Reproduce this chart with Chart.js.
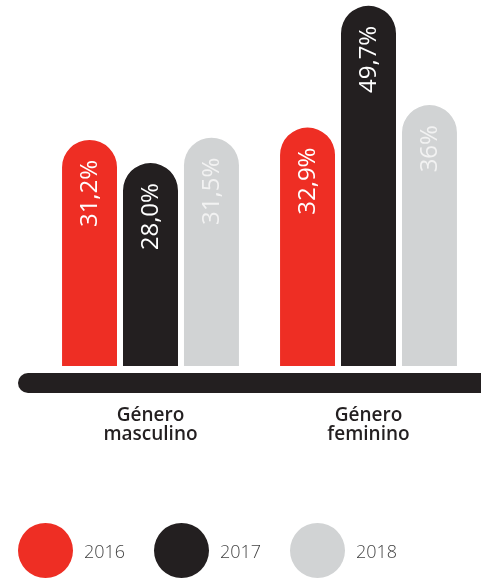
<!DOCTYPE html>
<html>
<head>
<meta charset="utf-8">
<script src="https://cdn.jsdelivr.net/npm/chart.js@4/dist/chart.umd.min.js"></script>
<style>
  html, body { margin: 0; padding: 0; background: #ffffff; }
  #wrap { position: relative; width: 481px; height: 579px; overflow: hidden; }
  #legend { position: absolute; left: 18px; top: 523px; display: flex; font-family: "Open Sans", sans-serif; font-weight: 300; font-size: 18px; color: #444444; }
  .item { display: flex; align-items: center; width: 136px; }
  .dot { width: 55px; height: 55px; border-radius: 50%; margin-right: 11px; }
</style>
</head>
<body>
<div id="wrap">
  <canvas id="chart" width="481" height="579"></canvas>
  <div id="legend"></div>
</div>
<script>

// DATA //
const categories = [['Género', 'masculino'], ['Género', 'feminino']];
const years = ['2016', '2017', '2018'];
const values2016 = [31.2, 32.9];
const values2017 = [28.0, 49.7];
const values2018 = [31.5, 36];
const valueLabels2016 = ['31,2%', '32,9%'];
const valueLabels2017 = ['28,0%', '49,7%'];
const valueLabels2018 = ['31,5%', '36%'];

const COLORS = ['#ee2e24', '#231f20', '#d1d3d4'];
const LABEL_COLORS = ['#ffffff', '#ffffff', '#f2f2f2'];

const seriesValues = [values2016, values2017, values2018];
const seriesLabels = [valueLabels2016, valueLabels2017, valueLabels2018];

// BASELINE BAR + VALUE LABELS //
const decorations = {
  id: 'decorations',
  beforeDatasetsDraw(chart) {
    const {ctx, chartArea} = chart;
    const y = chartArea.bottom + 7;
    const h = 20;
    const x = 18;
    ctx.save();
    ctx.fillStyle = '#231f20';
    ctx.beginPath();
    ctx.moveTo(x + h / 2, y);
    ctx.lineTo(chart.width + 10, y);
    ctx.lineTo(chart.width + 10, y + h);
    ctx.lineTo(x + h / 2, y + h);
    ctx.arc(x + h / 2, y + h / 2, h / 2, Math.PI / 2, Math.PI * 1.5);
    ctx.closePath();
    ctx.fill();
    ctx.restore();
  },
  afterDatasetsDraw(chart) {
    const {ctx} = chart;
    ctx.save();
    ctx.font = '400 24px "Open Sans", sans-serif';
    ctx.textAlign = 'right';
    ctx.textBaseline = 'middle';
    chart.data.datasets.forEach((ds, i) => {
      chart.getDatasetMeta(i).data.forEach((bar, j) => {
        ctx.save();
        ctx.translate(bar.x + 1, bar.y + 20);
        ctx.rotate(-Math.PI / 2);
        ctx.fillStyle = LABEL_COLORS[i];
        ctx.fillText(seriesLabels[i][j], 0, 0);
        ctx.restore();
      });
    });
    ctx.restore();
  }
};

const chart = new Chart(document.getElementById('chart'), {
  type: 'bar',
  data: {
    labels: categories,
    datasets: years.map((year, i) => ({
      label: year,
      data: seriesValues[i],
      backgroundColor: COLORS[i],
      borderWidth: 0,
      borderRadius: {topLeft: 27.5, topRight: 27.5, bottomLeft: 0, bottomRight: 0},
      borderSkipped: false,
      barPercentage: 0.9016,
      categoryPercentage: 0.839
    }))
  },
  options: {
    responsive: false,
    animation: false,
    layout: {padding: {top: 0, right: 3.5, bottom: 0, left: 0}},
    plugins: {
      legend: {display: false},
      tooltip: {enabled: false}
    },
    scales: {
      x: {
        grid: {display: false, drawTicks: false},
        border: {display: false},
        ticks: {
          padding: 40,
          color: '#231f20',
          font: {family: '"Open Sans", sans-serif', size: 19, weight: '600', lineHeight: 1.0}
        },
        afterFit: (scale) => { scale.height = 213; }
      },
      y: {
        min: 0,
        max: 50.5,
        grid: {display: false, drawTicks: false},
        border: {display: false},
        ticks: {display: false},
        afterFit: (scale) => { scale.width = 41.5; }
      }
    }
  },
  plugins: [decorations]
});

// LEGEND //
const legendNode = document.getElementById('legend');
years.forEach((year, i) => {
  const item = document.createElement('div');
  item.className = 'item';
  item.innerHTML = `<span class="dot" style="background:${ COLORS[i] }"></span><span>${ year }</span>`;
  legendNode.appendChild(item);
});
</script>
</body>
</html>
